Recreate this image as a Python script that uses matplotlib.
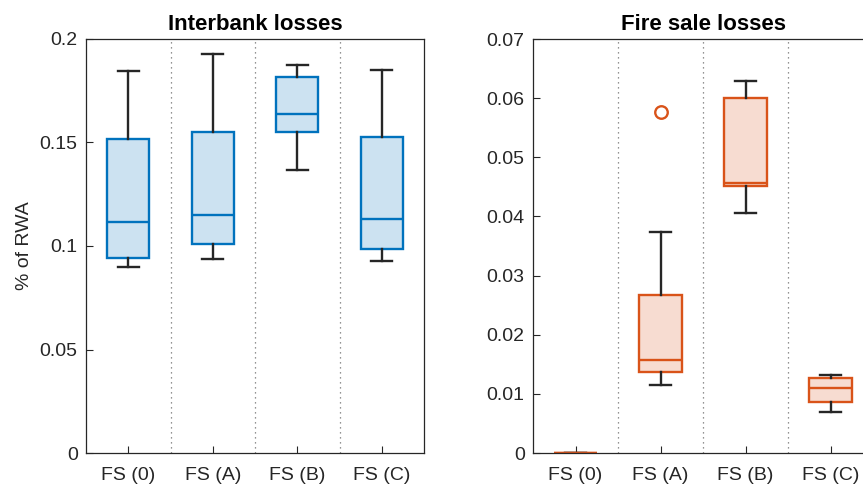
import matplotlib
matplotlib.use("Agg")
import matplotlib.pyplot as plt

plt.rcParams['font.family'] = ['Liberation Sans', 'DejaVu Sans']

labels = ["FS (0)", "FS (A)", "FS (B)", "FS (C)"]

# interbank losses: whisker low, q1, median, q3, whisker high
ib_lo = [0.0897, 0.0939, 0.1369, 0.0928]
ib_q1 = [0.0942, 0.1010, 0.1551, 0.0984]
ib_med = [0.1117, 0.1150, 0.1638, 0.1129]
ib_q3 = [0.1517, 0.1551, 0.1816, 0.1525]
ib_hi = [0.1844, 0.1928, 0.1873, 0.1850]
ib_out = [[], [], [], []]

# fire sale losses
fs_lo = [0.0, 0.01143, 0.04063, 0.00686]
fs_q1 = [0.0, 0.01363, 0.0452, 0.00867]
fs_med = [0.0, 0.01566, 0.04565, 0.01092]
fs_q3 = [0.0, 0.02677, 0.06008, 0.01261]
fs_hi = [0.0, 0.03737, 0.06295, 0.01319]
fs_out = [[], [0.05766], [], []]

BLUE = "#0072BD"
ORANGE = "#D95319"
DARK = "#262626"


def make_stats(lo, q1, med, q3, hi, out):
    stats = []
    for i in range(len(lo)):
        stats.append(dict(whislo=lo[i], q1=q1[i], med=med[i], q3=q3[i],
                          whishi=hi[i], fliers=out[i], label=labels[i]))
    return stats


def draw(ax, stats, color, ylim, yticks, yticklabels, title):
    bp = ax.bxp(stats, positions=[1, 2, 3, 4], widths=0.5, capwidths=0.25,
                patch_artist=True, showfliers=True)
    for b in bp['boxes']:
        b.set_facecolor(matplotlib.colors.to_rgba(color, 0.2))
        b.set_edgecolor(color)
        b.set_linewidth(1.7)
    for m in bp['medians']:
        m.set_color(color)
        m.set_linewidth(1.7)
    for w in bp['whiskers'] + bp['caps']:
        w.set_color(DARK)
        w.set_linewidth(1.7)
    for f in bp['fliers']:
        f.set(marker='o', markerfacecolor='none', markeredgecolor=color,
              markersize=9, markeredgewidth=1.7)
    for x in [1.5, 2.5, 3.5]:
        ax.axvline(x, color="#707070", linestyle=(0, (1, 3)), linewidth=0.9,
                   zorder=0)
    ax.set_xlim(0.5, 4.5)
    ax.set_ylim(*ylim)
    ax.set_yticks(yticks)
    ax.set_yticklabels(yticklabels)
    ax.set_xticks([1, 2, 3, 4])
    ax.set_xticklabels(labels)
    ax.tick_params(direction='in', length=5, width=0.8, colors=DARK,
                   labelsize=14, pad=6)
    ax.tick_params(axis='x', pad=10)
    for s in ax.spines.values():
        s.set_color(DARK)
        s.set_linewidth(0.9)
    ax.set_title(title, fontsize=16, fontweight='bold', pad=6.5, color='black')


fig = plt.figure(figsize=(8.63, 4.86), dpi=100)
ax1 = fig.add_axes([86 / 863, 1 - 453 / 486, 338 / 863, 414 / 486])
ax2 = fig.add_axes([533 / 863, 1 - 453 / 486, 340 / 863, 414 / 486])

draw(ax1, make_stats(ib_lo, ib_q1, ib_med, ib_q3, ib_hi, ib_out), BLUE,
     (0, 0.2), [0, 0.05, 0.1, 0.15, 0.2], ["0", "0.05", "0.1", "0.15", "0.2"],
     "Interbank losses")
draw(ax2, make_stats(fs_lo, fs_q1, fs_med, fs_q3, fs_hi, fs_out), ORANGE,
     (0, 0.07), [0, 0.01, 0.02, 0.03, 0.04, 0.05, 0.06, 0.07],
     ["0", "0.01", "0.02", "0.03", "0.04", "0.05", "0.06", "0.07"],
     "Fire sale losses")
ax1.set_ylabel("% of RWA", fontsize=14, color=DARK, labelpad=5)

fig.savefig("out.png", dpi=100)
